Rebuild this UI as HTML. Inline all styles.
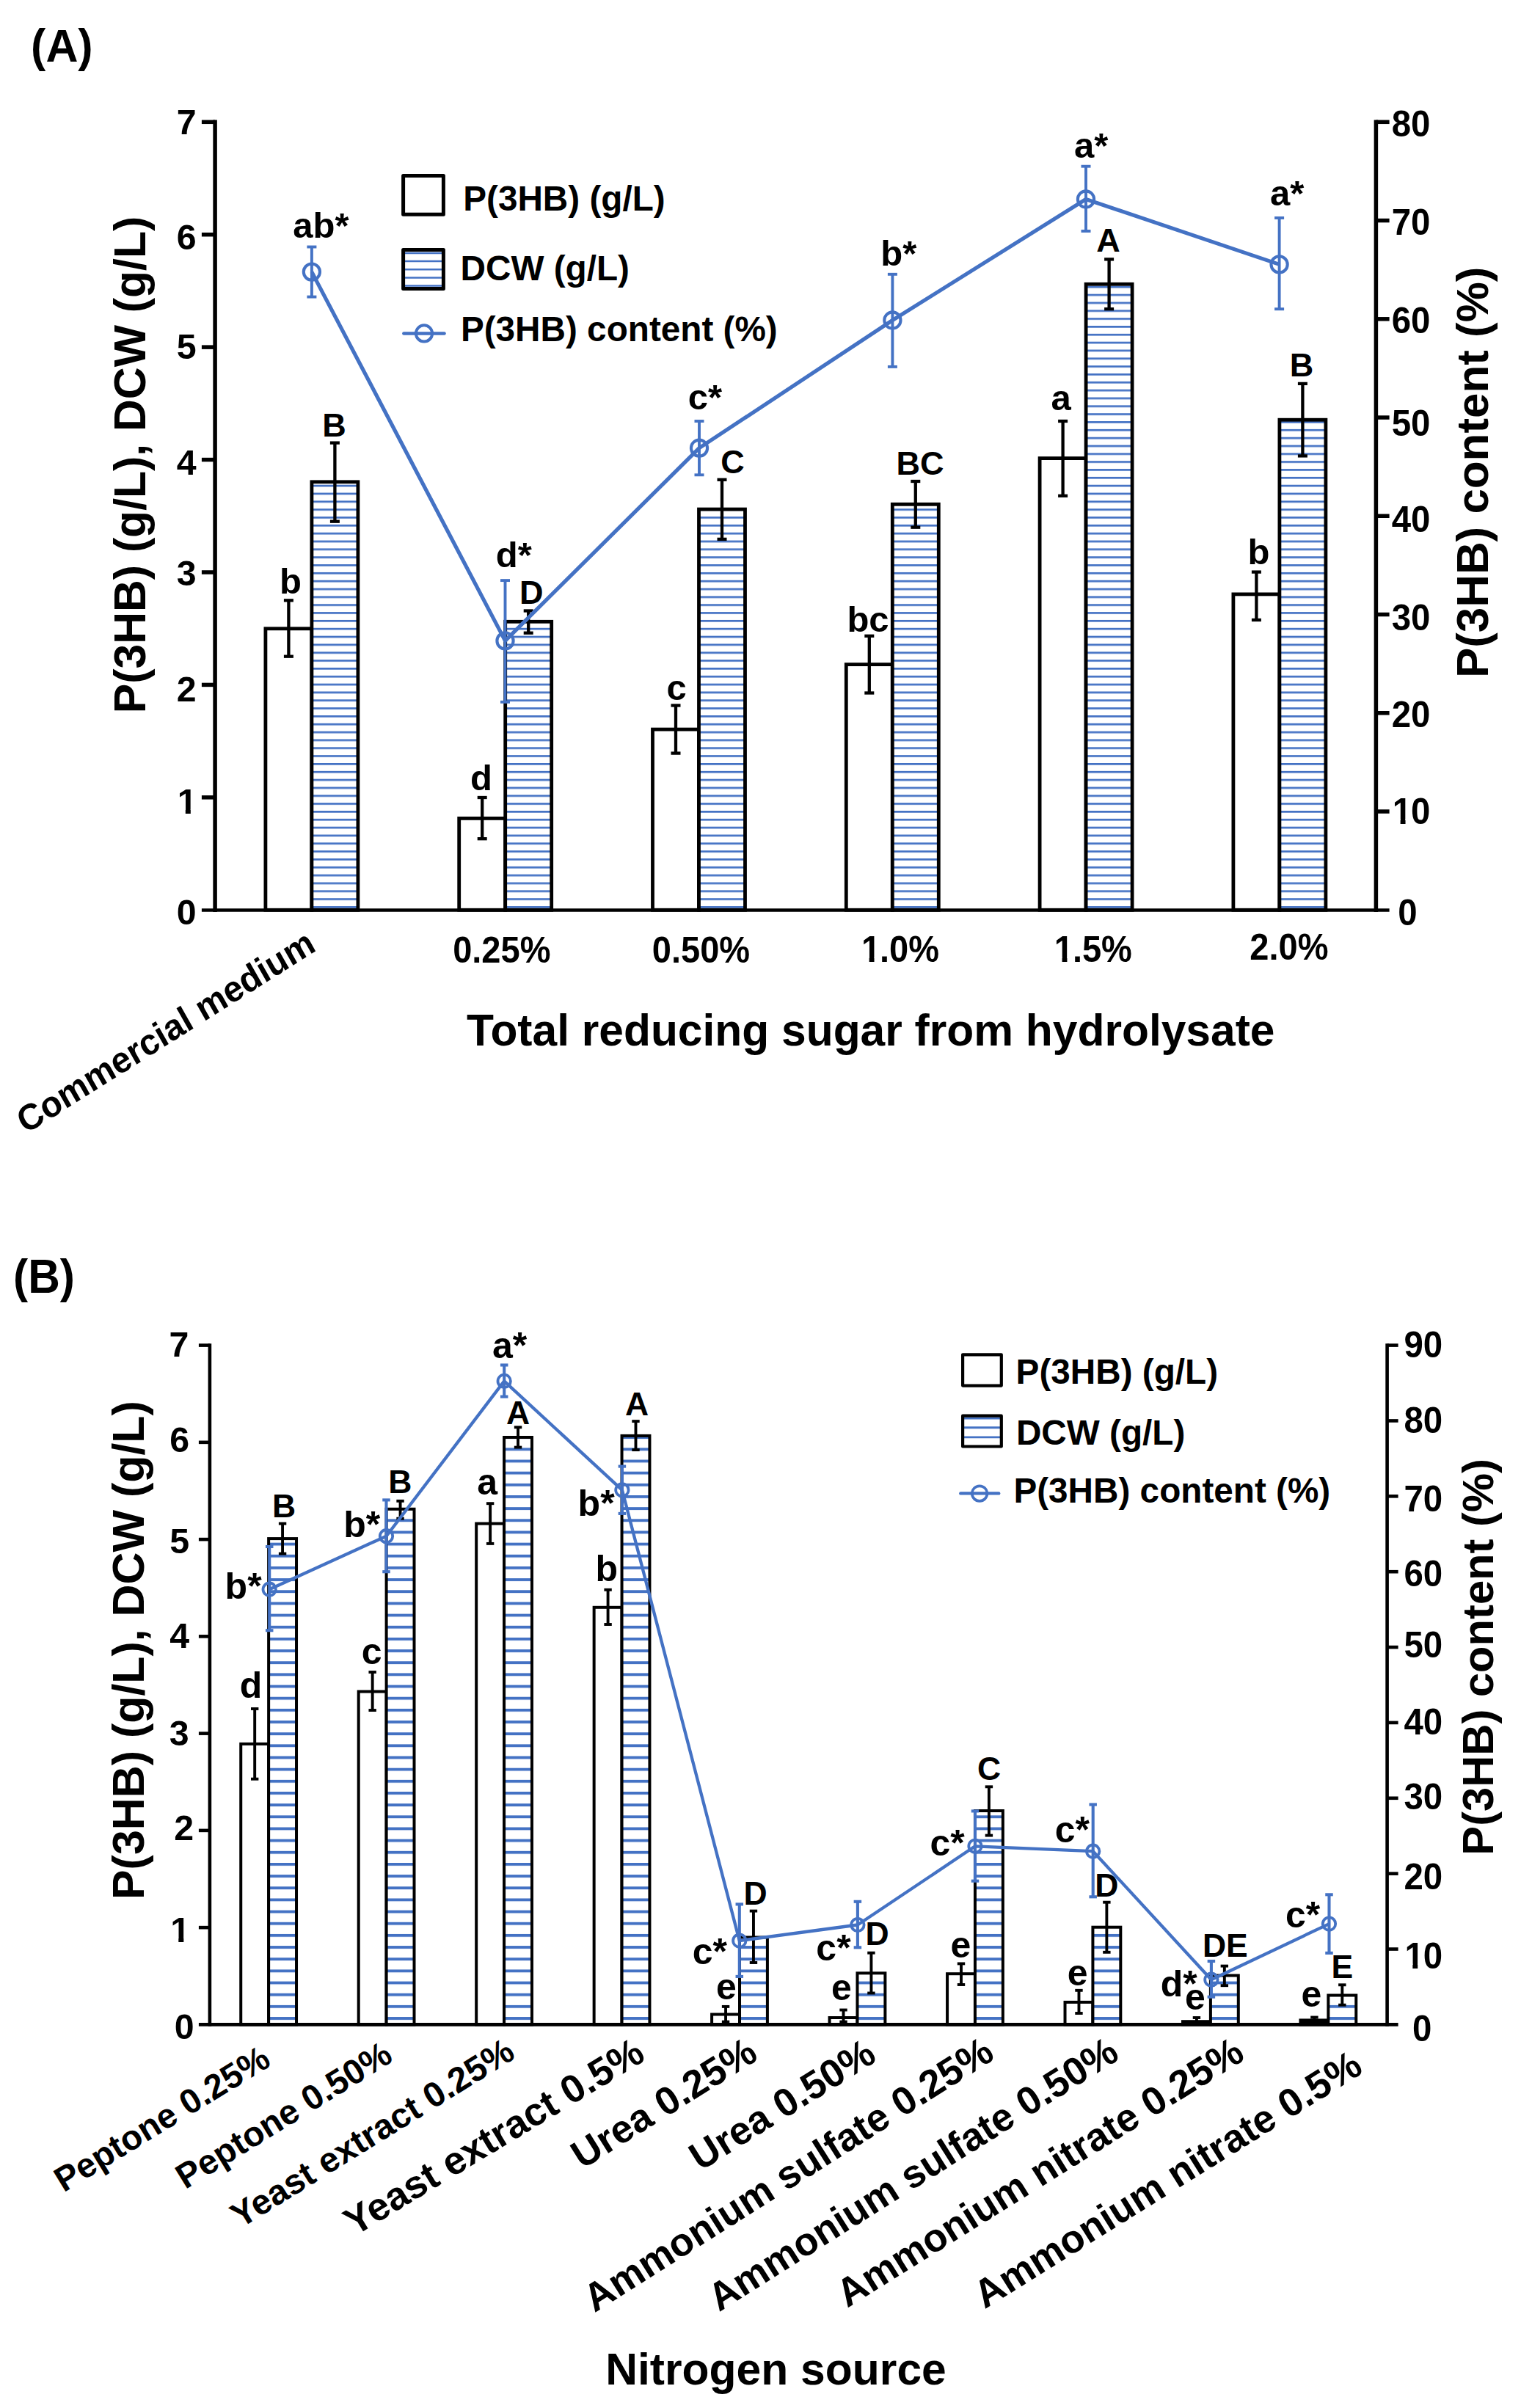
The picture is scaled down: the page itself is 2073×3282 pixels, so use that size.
<!DOCTYPE html>
<html lang="en"><head><meta charset="utf-8"><title>P(3HB) production chart</title>
<style>html,body{margin:0;padding:0;background:#fff;width:2073px;height:3282px;overflow:hidden}svg{display:block}text{font-family:"Liberation Sans",Arial,Helvetica,sans-serif;font-weight:bold}</style></head><body>
<svg width="2073" height="3282" viewBox="0 0 2073 3282">
<rect width="2073" height="3282" fill="#fff"/>
<defs>
<pattern id="hA" patternUnits="userSpaceOnUse" x="0" y="-932.150" width="40" height="10.836"><rect width="40" height="10.836" fill="#fff"/><rect width="40" height="2.7" fill="#4472C4"/></pattern>
<pattern id="hB" patternUnits="userSpaceOnUse" x="0" y="-482.950" width="40" height="16.160"><rect width="40" height="16.160" fill="#fff"/><rect width="40" height="3.9" fill="#4472C4"/></pattern>
</defs>
<text transform="translate(42.1 84.3) scale(1.015 1.06)" font-size="60">(A)</text>
<rect x="361.9" y="856.8" width="63" height="383.45" fill="#fff" stroke="#000" stroke-width="4.8"/>
<rect x="424.9" y="656.8" width="63" height="583.45" fill="url(#hA)" stroke="#000" stroke-width="4.8"/>
<rect x="625.7" y="1115.4" width="63" height="124.85" fill="#fff" stroke="#000" stroke-width="4.8"/>
<rect x="688.7" y="847.3" width="63" height="392.95" fill="url(#hA)" stroke="#000" stroke-width="4.8"/>
<rect x="889.5" y="994.1" width="63" height="246.15" fill="#fff" stroke="#000" stroke-width="4.8"/>
<rect x="952.5" y="694.1" width="63" height="546.15" fill="url(#hA)" stroke="#000" stroke-width="4.8"/>
<rect x="1153.3" y="905.6" width="63" height="334.65" fill="#fff" stroke="#000" stroke-width="4.8"/>
<rect x="1216.3" y="687.3" width="63" height="552.95" fill="url(#hA)" stroke="#000" stroke-width="4.8"/>
<rect x="1417.1" y="624.6" width="63" height="615.65" fill="#fff" stroke="#000" stroke-width="4.8"/>
<rect x="1480.1" y="387.3" width="63" height="852.95" fill="url(#hA)" stroke="#000" stroke-width="4.8"/>
<rect x="1680.9" y="809.9" width="63" height="430.35" fill="#fff" stroke="#000" stroke-width="4.8"/>
<rect x="1743.9" y="572.2" width="63" height="668.05" fill="url(#hA)" stroke="#000" stroke-width="4.8"/>
<line x1="393.4" y1="818.3" x2="393.4" y2="894.7" stroke="#000" stroke-width="4.3" stroke-linecap="butt"/>
<line x1="386.9" y1="818.3" x2="399.9" y2="818.3" stroke="#000" stroke-width="4.3" stroke-linecap="butt"/>
<line x1="386.9" y1="894.7" x2="399.9" y2="894.7" stroke="#000" stroke-width="4.3" stroke-linecap="butt"/>
<line x1="456.4" y1="603.6" x2="456.4" y2="710.7" stroke="#000" stroke-width="4.3" stroke-linecap="butt"/>
<line x1="449.9" y1="603.6" x2="462.9" y2="603.6" stroke="#000" stroke-width="4.3" stroke-linecap="butt"/>
<line x1="449.9" y1="710.7" x2="462.9" y2="710.7" stroke="#000" stroke-width="4.3" stroke-linecap="butt"/>
<line x1="657.2" y1="1087" x2="657.2" y2="1143.2" stroke="#000" stroke-width="4.3" stroke-linecap="butt"/>
<line x1="650.7" y1="1087" x2="663.7" y2="1087" stroke="#000" stroke-width="4.3" stroke-linecap="butt"/>
<line x1="650.7" y1="1143.2" x2="663.7" y2="1143.2" stroke="#000" stroke-width="4.3" stroke-linecap="butt"/>
<line x1="720.2" y1="832.5" x2="720.2" y2="862.7" stroke="#000" stroke-width="4.3" stroke-linecap="butt"/>
<line x1="713.7" y1="832.5" x2="726.7" y2="832.5" stroke="#000" stroke-width="4.3" stroke-linecap="butt"/>
<line x1="713.7" y1="862.7" x2="726.7" y2="862.7" stroke="#000" stroke-width="4.3" stroke-linecap="butt"/>
<line x1="921" y1="961.5" x2="921" y2="1026.6" stroke="#000" stroke-width="4.3" stroke-linecap="butt"/>
<line x1="914.5" y1="961.5" x2="927.5" y2="961.5" stroke="#000" stroke-width="4.3" stroke-linecap="butt"/>
<line x1="914.5" y1="1026.6" x2="927.5" y2="1026.6" stroke="#000" stroke-width="4.3" stroke-linecap="butt"/>
<line x1="984" y1="653.8" x2="984" y2="734.9" stroke="#000" stroke-width="4.3" stroke-linecap="butt"/>
<line x1="977.5" y1="653.8" x2="990.5" y2="653.8" stroke="#000" stroke-width="4.3" stroke-linecap="butt"/>
<line x1="977.5" y1="734.9" x2="990.5" y2="734.9" stroke="#000" stroke-width="4.3" stroke-linecap="butt"/>
<line x1="1184.8" y1="866.8" x2="1184.8" y2="944.5" stroke="#000" stroke-width="4.3" stroke-linecap="butt"/>
<line x1="1178.3" y1="866.8" x2="1191.3" y2="866.8" stroke="#000" stroke-width="4.3" stroke-linecap="butt"/>
<line x1="1178.3" y1="944.5" x2="1191.3" y2="944.5" stroke="#000" stroke-width="4.3" stroke-linecap="butt"/>
<line x1="1247.8" y1="656" x2="1247.8" y2="718.7" stroke="#000" stroke-width="4.3" stroke-linecap="butt"/>
<line x1="1241.3" y1="656" x2="1254.3" y2="656" stroke="#000" stroke-width="4.3" stroke-linecap="butt"/>
<line x1="1241.3" y1="718.7" x2="1254.3" y2="718.7" stroke="#000" stroke-width="4.3" stroke-linecap="butt"/>
<line x1="1448.6" y1="574" x2="1448.6" y2="675.8" stroke="#000" stroke-width="4.3" stroke-linecap="butt"/>
<line x1="1442.1" y1="574" x2="1455.1" y2="574" stroke="#000" stroke-width="4.3" stroke-linecap="butt"/>
<line x1="1442.1" y1="675.8" x2="1455.1" y2="675.8" stroke="#000" stroke-width="4.3" stroke-linecap="butt"/>
<line x1="1511.6" y1="353.4" x2="1511.6" y2="421.2" stroke="#000" stroke-width="4.3" stroke-linecap="butt"/>
<line x1="1505.1" y1="353.4" x2="1518.1" y2="353.4" stroke="#000" stroke-width="4.3" stroke-linecap="butt"/>
<line x1="1505.1" y1="421.2" x2="1518.1" y2="421.2" stroke="#000" stroke-width="4.3" stroke-linecap="butt"/>
<line x1="1712.4" y1="779.6" x2="1712.4" y2="845" stroke="#000" stroke-width="4.3" stroke-linecap="butt"/>
<line x1="1705.9" y1="779.6" x2="1718.9" y2="779.6" stroke="#000" stroke-width="4.3" stroke-linecap="butt"/>
<line x1="1705.9" y1="845" x2="1718.9" y2="845" stroke="#000" stroke-width="4.3" stroke-linecap="butt"/>
<line x1="1775.4" y1="522.9" x2="1775.4" y2="621.4" stroke="#000" stroke-width="4.3" stroke-linecap="butt"/>
<line x1="1768.9" y1="522.9" x2="1781.9" y2="522.9" stroke="#000" stroke-width="4.3" stroke-linecap="butt"/>
<line x1="1768.9" y1="621.4" x2="1781.9" y2="621.4" stroke="#000" stroke-width="4.3" stroke-linecap="butt"/>
<line x1="293.1" y1="163.56" x2="293.1" y2="1243" stroke="#000" stroke-width="5.5" stroke-linecap="butt"/>
<line x1="1875.4" y1="163.56" x2="1875.4" y2="1243" stroke="#000" stroke-width="5.5" stroke-linecap="butt"/>
<line x1="274.9" y1="1240.45" x2="1893.6" y2="1240.45" stroke="#000" stroke-width="4.6" stroke-linecap="butt"/>
<line x1="274.9" y1="1086.83" x2="293.1" y2="1086.83" stroke="#000" stroke-width="5.5" stroke-linecap="butt"/>
<line x1="274.9" y1="933.41" x2="293.1" y2="933.41" stroke="#000" stroke-width="5.5" stroke-linecap="butt"/>
<line x1="274.9" y1="779.99" x2="293.1" y2="779.99" stroke="#000" stroke-width="5.5" stroke-linecap="butt"/>
<line x1="274.9" y1="626.57" x2="293.1" y2="626.57" stroke="#000" stroke-width="5.5" stroke-linecap="butt"/>
<line x1="274.9" y1="473.15" x2="293.1" y2="473.15" stroke="#000" stroke-width="5.5" stroke-linecap="butt"/>
<line x1="274.9" y1="319.73" x2="293.1" y2="319.73" stroke="#000" stroke-width="5.5" stroke-linecap="butt"/>
<line x1="274.9" y1="166.31" x2="293.1" y2="166.31" stroke="#000" stroke-width="5.5" stroke-linecap="butt"/>
<line x1="1875.4" y1="1106.01" x2="1893.6" y2="1106.01" stroke="#000" stroke-width="5.5" stroke-linecap="butt"/>
<line x1="1875.4" y1="971.77" x2="1893.6" y2="971.77" stroke="#000" stroke-width="5.5" stroke-linecap="butt"/>
<line x1="1875.4" y1="837.52" x2="1893.6" y2="837.52" stroke="#000" stroke-width="5.5" stroke-linecap="butt"/>
<line x1="1875.4" y1="703.28" x2="1893.6" y2="703.28" stroke="#000" stroke-width="5.5" stroke-linecap="butt"/>
<line x1="1875.4" y1="569.04" x2="1893.6" y2="569.04" stroke="#000" stroke-width="5.5" stroke-linecap="butt"/>
<line x1="1875.4" y1="434.8" x2="1893.6" y2="434.8" stroke="#000" stroke-width="5.5" stroke-linecap="butt"/>
<line x1="1875.4" y1="300.55" x2="1893.6" y2="300.55" stroke="#000" stroke-width="5.5" stroke-linecap="butt"/>
<line x1="1875.4" y1="166.31" x2="1893.6" y2="166.31" stroke="#000" stroke-width="5.5" stroke-linecap="butt"/>
<text x="267.5" y="1260.25" font-size="48.3" text-anchor="end" fill="#000">0</text>
<g transform="translate(240.64 1109.13) scale(1 1.0)"><clipPath id="c1_1"><rect x="-10" y="-62.79" width="37.95" height="56.96"/><rect x="12.16" y="-6.93" width="7.03" height="7.93"/><rect x="27.4" y="-62.79" width="289.8" height="86.94"/></clipPath><text clip-path="url(#c1_1)" font-size="48.3" dx="1.08 -1.08">1</text></g>
<text x="267.5" y="955.71" font-size="48.3" text-anchor="end" fill="#000">2</text>
<text x="267.5" y="797.79" font-size="48.3" text-anchor="end" fill="#000">3</text>
<text x="267.5" y="646.67" font-size="48.3" text-anchor="end" fill="#000">4</text>
<text x="267.5" y="488.55" font-size="48.3" text-anchor="end" fill="#000">5</text>
<text x="267.5" y="340.23" font-size="48.3" text-anchor="end" fill="#000">6</text>
<text x="267.5" y="183.11" font-size="48.3" text-anchor="end" fill="#000">7</text>
<text transform="translate(1905.3 1260.75) scale(1 1.04)" font-size="47.4">0</text>
<g transform="translate(1896.7 1122.51) scale(1 1.04)"><clipPath id="c1_2"><rect x="-10" y="-61.62" width="37.43" height="55.88"/><rect x="11.93" y="-6.84" width="6.9" height="7.84"/><rect x="26.89" y="-61.62" width="284.4" height="85.32"/></clipPath><text clip-path="url(#c1_2)" font-size="47.4" dx="1.06 -1.06">10</text></g>
<text transform="translate(1896.7 990.97) scale(1 1.04)" font-size="47.4">20</text>
<text transform="translate(1896.7 859.32) scale(1 1.04)" font-size="47.4">30</text>
<text transform="translate(1896.7 724.88) scale(1 1.04)" font-size="47.4">40</text>
<text transform="translate(1896.7 593.74) scale(1 1.04)" font-size="47.4">50</text>
<text transform="translate(1896.7 454.4) scale(1 1.04)" font-size="47.4">60</text>
<text transform="translate(1896.7 320.05) scale(1 1.04)" font-size="47.4">70</text>
<text transform="translate(1896.7 186.31) scale(1 1.04)" font-size="47.4">80</text>
<polyline fill="none" stroke="#4472C4" stroke-width="5.2" stroke-linejoin="round" points="424.9,370.6 688.5,873.4 953,610.7 1216.4,436.5 1480,271.5 1743.6,360.4"/>
<line x1="424.9" y1="336.5" x2="424.9" y2="404.6" stroke="#4472C4" stroke-width="3.9" stroke-linecap="butt"/>
<line x1="418.4" y1="336.5" x2="431.4" y2="336.5" stroke="#4472C4" stroke-width="3.9" stroke-linecap="butt"/>
<line x1="418.4" y1="404.6" x2="431.4" y2="404.6" stroke="#4472C4" stroke-width="3.9" stroke-linecap="butt"/>
<line x1="688.5" y1="791.1" x2="688.5" y2="956.8" stroke="#4472C4" stroke-width="3.9" stroke-linecap="butt"/>
<line x1="682" y1="791.1" x2="695" y2="791.1" stroke="#4472C4" stroke-width="3.9" stroke-linecap="butt"/>
<line x1="682" y1="956.8" x2="695" y2="956.8" stroke="#4472C4" stroke-width="3.9" stroke-linecap="butt"/>
<line x1="953" y1="574" x2="953" y2="647.3" stroke="#4472C4" stroke-width="3.9" stroke-linecap="butt"/>
<line x1="946.5" y1="574" x2="959.5" y2="574" stroke="#4472C4" stroke-width="3.9" stroke-linecap="butt"/>
<line x1="946.5" y1="647.3" x2="959.5" y2="647.3" stroke="#4472C4" stroke-width="3.9" stroke-linecap="butt"/>
<line x1="1216.4" y1="373.8" x2="1216.4" y2="499.9" stroke="#4472C4" stroke-width="3.9" stroke-linecap="butt"/>
<line x1="1209.9" y1="373.8" x2="1222.9" y2="373.8" stroke="#4472C4" stroke-width="3.9" stroke-linecap="butt"/>
<line x1="1209.9" y1="499.9" x2="1222.9" y2="499.9" stroke="#4472C4" stroke-width="3.9" stroke-linecap="butt"/>
<line x1="1480" y1="226.7" x2="1480" y2="315" stroke="#4472C4" stroke-width="3.9" stroke-linecap="butt"/>
<line x1="1473.5" y1="226.7" x2="1486.5" y2="226.7" stroke="#4472C4" stroke-width="3.9" stroke-linecap="butt"/>
<line x1="1473.5" y1="315" x2="1486.5" y2="315" stroke="#4472C4" stroke-width="3.9" stroke-linecap="butt"/>
<line x1="1743.6" y1="297" x2="1743.6" y2="421.2" stroke="#4472C4" stroke-width="3.9" stroke-linecap="butt"/>
<line x1="1737.1" y1="297" x2="1750.1" y2="297" stroke="#4472C4" stroke-width="3.9" stroke-linecap="butt"/>
<line x1="1737.1" y1="421.2" x2="1750.1" y2="421.2" stroke="#4472C4" stroke-width="3.9" stroke-linecap="butt"/>
<circle cx="424.9" cy="370.6" r="11.1" fill="none" stroke="#4472C4" stroke-width="4.1"/>
<circle cx="688.5" cy="873.4" r="11.1" fill="none" stroke="#4472C4" stroke-width="4.1"/>
<circle cx="953" cy="610.7" r="11.1" fill="none" stroke="#4472C4" stroke-width="4.1"/>
<circle cx="1216.4" cy="436.5" r="11.1" fill="none" stroke="#4472C4" stroke-width="4.1"/>
<circle cx="1480" cy="271.5" r="11.1" fill="none" stroke="#4472C4" stroke-width="4.1"/>
<circle cx="1743.6" cy="360.4" r="11.1" fill="none" stroke="#4472C4" stroke-width="4.1"/>
<text x="437.5" y="323.5" font-size="49" text-anchor="middle" fill="#000">ab*</text>
<text x="395.9" y="808.9" font-size="49" text-anchor="middle" fill="#000">b</text>
<text x="455.6" y="594.7" font-size="45" text-anchor="middle" fill="#000">B</text>
<text x="700.3" y="773.4" font-size="49" text-anchor="middle" fill="#000">d*</text>
<text x="655.9" y="1076.9" font-size="49" text-anchor="middle" fill="#000">d</text>
<text x="724.3" y="822.5" font-size="45" text-anchor="middle" fill="#000">D</text>
<text x="961" y="558" font-size="49" text-anchor="middle" fill="#000">c*</text>
<text x="922.2" y="954.4" font-size="49" text-anchor="middle" fill="#000">c</text>
<text x="998.5" y="645" font-size="45" text-anchor="middle" fill="#000">C</text>
<text x="1224.8" y="362.3" font-size="49" text-anchor="middle" fill="#000">b*</text>
<text x="1183" y="861.4" font-size="49" text-anchor="middle" fill="#000">bc</text>
<text x="1253.9" y="647" font-size="45" text-anchor="middle" fill="#000">BC</text>
<text x="1487.1" y="215.2" font-size="49" text-anchor="middle" fill="#000">a*</text>
<text x="1446.1" y="559.4" font-size="49" text-anchor="middle" fill="#000">a</text>
<text x="1510.4" y="343.1" font-size="45" text-anchor="middle" fill="#000">A</text>
<text x="1754.2" y="280.4" font-size="49" text-anchor="middle" fill="#000">a*</text>
<text x="1715.5" y="768.6" font-size="49" text-anchor="middle" fill="#000">b</text>
<text x="1774" y="512.7" font-size="45" text-anchor="middle" fill="#000">B</text>
<rect x="549.6" y="239.6" width="54.8" height="52.6" fill="#fff" stroke="#000" stroke-width="5" stroke-linejoin="round"/>
<rect x="549.6" y="340.6" width="54.8" height="52.8" fill="#fff" stroke="none"/>
<line x1="549.6" y1="344.9" x2="604.4" y2="344.9" stroke="#4472C4" stroke-width="2.5" stroke-linecap="butt"/>
<line x1="549.6" y1="356.1" x2="604.4" y2="356.1" stroke="#4472C4" stroke-width="2.5" stroke-linecap="butt"/>
<line x1="549.6" y1="367.3" x2="604.4" y2="367.3" stroke="#4472C4" stroke-width="2.5" stroke-linecap="butt"/>
<line x1="549.6" y1="378.4" x2="604.4" y2="378.4" stroke="#4472C4" stroke-width="2.5" stroke-linecap="butt"/>
<line x1="549.6" y1="389.6" x2="604.4" y2="389.6" stroke="#4472C4" stroke-width="2.5" stroke-linecap="butt"/>
<rect x="549.6" y="340.6" width="54.8" height="52.8" fill="none" stroke="#000" stroke-width="5" stroke-linejoin="round"/>
<line x1="550.4" y1="454.5" x2="605.5" y2="454.5" stroke="#4472C4" stroke-width="4.6" stroke-linecap="round"/>
<circle cx="578" cy="454.4" r="11.1" fill="none" stroke="#4472C4" stroke-width="4"/>
<text x="631.2" y="287" font-size="47.7" text-anchor="start" fill="#000">P(3HB) (g/L)</text>
<text x="627.5" y="381.8" font-size="47.7" text-anchor="start" fill="#000">DCW (g/L)</text>
<text x="627.9" y="464.7" font-size="47.7" text-anchor="start" fill="#000">P(3HB) content (%)</text>
<text transform="translate(197.8 633.5) rotate(-90)" font-size="60.7" text-anchor="middle">P(3HB) (g/L), DCW (g/L)</text>
<text transform="translate(2027.8 643.9) rotate(-90)" font-size="61.9" text-anchor="middle">P(3HB) content (%)</text>
<text x="1186.7" y="1425.1" font-size="60.5" text-anchor="middle" fill="#000">Total reducing sugar from hydrolysate</text>
<text transform="translate(683.8 1311.5) scale(1 1.06)" font-size="47" text-anchor="middle">0.25%</text>
<text transform="translate(955.5 1311.5) scale(1 1.06)" font-size="47" text-anchor="middle">0.50%</text>
<g transform="translate(1172.84 1311.4) scale(1 1.06)"><clipPath id="c1_3"><rect x="-10" y="-61.1" width="37.19" height="55.4"/><rect x="11.83" y="-6.8" width="6.85" height="7.8"/><rect x="26.67" y="-61.1" width="282" height="84.6"/></clipPath><text clip-path="url(#c1_3)" font-size="47" dx="1.06 -1.06">1.0%</text></g>
<g transform="translate(1435.74 1311.4) scale(1 1.06)"><clipPath id="c1_4"><rect x="-10" y="-61.1" width="37.19" height="55.4"/><rect x="11.83" y="-6.8" width="6.85" height="7.8"/><rect x="26.67" y="-61.1" width="282" height="84.6"/></clipPath><text clip-path="url(#c1_4)" font-size="47" dx="1.06 -1.06">1.5%</text></g>
<text transform="translate(1756.9 1308.3) scale(1 1.06)" font-size="47" text-anchor="middle">2.0%</text>
<text transform="translate(432.6 1294.9) scale(1 1.055) rotate(-30.93)" font-size="47.1" text-anchor="end">Commercial medium</text>
<text transform="translate(18.1 1761.8) scale(1.007 1.065)" font-size="60">(B)</text>
<rect x="328.24" y="2376.9" width="37.9" height="382.5" fill="#fff" stroke="#000" stroke-width="4"/>
<rect x="366.13" y="2097.1" width="37.9" height="662.3" fill="url(#hB)" stroke="#000" stroke-width="4"/>
<rect x="488.7" y="2305.5" width="37.9" height="453.9" fill="#fff" stroke="#000" stroke-width="4"/>
<rect x="526.6" y="2056.8" width="37.9" height="702.6" fill="url(#hB)" stroke="#000" stroke-width="4"/>
<rect x="649.17" y="2076.6" width="37.9" height="682.8" fill="#fff" stroke="#000" stroke-width="4"/>
<rect x="687.07" y="1959" width="37.9" height="800.4" fill="url(#hB)" stroke="#000" stroke-width="4"/>
<rect x="809.64" y="2190.8" width="37.9" height="568.6" fill="#fff" stroke="#000" stroke-width="4"/>
<rect x="847.54" y="1956.9" width="37.9" height="802.5" fill="url(#hB)" stroke="#000" stroke-width="4"/>
<rect x="970.11" y="2745.5" width="37.9" height="13.9" fill="#fff" stroke="#000" stroke-width="4"/>
<rect x="1008.01" y="2640.5" width="37.9" height="118.9" fill="url(#hB)" stroke="#000" stroke-width="4"/>
<rect x="1130.58" y="2750" width="37.9" height="9.4" fill="#fff" stroke="#000" stroke-width="4"/>
<rect x="1168.48" y="2689.3" width="37.9" height="70.1" fill="url(#hB)" stroke="#000" stroke-width="4"/>
<rect x="1291.05" y="2690.2" width="37.9" height="69.2" fill="#fff" stroke="#000" stroke-width="4"/>
<rect x="1328.95" y="2468" width="37.9" height="291.4" fill="url(#hB)" stroke="#000" stroke-width="4"/>
<rect x="1451.52" y="2728.9" width="37.9" height="30.5" fill="#fff" stroke="#000" stroke-width="4"/>
<rect x="1489.42" y="2626.7" width="37.9" height="132.7" fill="url(#hB)" stroke="#000" stroke-width="4"/>
<rect x="1611.99" y="2755.2" width="37.9" height="4.2" fill="#000" stroke="#000" stroke-width="4"/>
<rect x="1649.89" y="2692.5" width="37.9" height="66.9" fill="url(#hB)" stroke="#000" stroke-width="4"/>
<rect x="1772.46" y="2753.4" width="37.9" height="6" fill="#000" stroke="#000" stroke-width="4"/>
<rect x="1810.36" y="2719.5" width="37.9" height="39.9" fill="url(#hB)" stroke="#000" stroke-width="4"/>
<line x1="347.19" y1="2329" x2="347.19" y2="2424.7" stroke="#000" stroke-width="3.9" stroke-linecap="butt"/>
<line x1="341.99" y1="2329" x2="352.38" y2="2329" stroke="#000" stroke-width="3.9" stroke-linecap="butt"/>
<line x1="341.99" y1="2424.7" x2="352.38" y2="2424.7" stroke="#000" stroke-width="3.9" stroke-linecap="butt"/>
<line x1="385.08" y1="2076.6" x2="385.08" y2="2117.6" stroke="#000" stroke-width="3.9" stroke-linecap="butt"/>
<line x1="379.88" y1="2076.6" x2="390.28" y2="2076.6" stroke="#000" stroke-width="3.9" stroke-linecap="butt"/>
<line x1="379.88" y1="2117.6" x2="390.28" y2="2117.6" stroke="#000" stroke-width="3.9" stroke-linecap="butt"/>
<line x1="507.65" y1="2279" x2="507.65" y2="2331" stroke="#000" stroke-width="3.9" stroke-linecap="butt"/>
<line x1="502.45" y1="2279" x2="512.85" y2="2279" stroke="#000" stroke-width="3.9" stroke-linecap="butt"/>
<line x1="502.45" y1="2331" x2="512.85" y2="2331" stroke="#000" stroke-width="3.9" stroke-linecap="butt"/>
<line x1="545.55" y1="2045.8" x2="545.55" y2="2069.7" stroke="#000" stroke-width="3.9" stroke-linecap="butt"/>
<line x1="540.35" y1="2045.8" x2="550.75" y2="2045.8" stroke="#000" stroke-width="3.9" stroke-linecap="butt"/>
<line x1="540.35" y1="2069.7" x2="550.75" y2="2069.7" stroke="#000" stroke-width="3.9" stroke-linecap="butt"/>
<line x1="668.12" y1="2049.2" x2="668.12" y2="2103.9" stroke="#000" stroke-width="3.9" stroke-linecap="butt"/>
<line x1="662.92" y1="2049.2" x2="673.32" y2="2049.2" stroke="#000" stroke-width="3.9" stroke-linecap="butt"/>
<line x1="662.92" y1="2103.9" x2="673.32" y2="2103.9" stroke="#000" stroke-width="3.9" stroke-linecap="butt"/>
<line x1="706.02" y1="1945.3" x2="706.02" y2="1972.6" stroke="#000" stroke-width="3.9" stroke-linecap="butt"/>
<line x1="700.82" y1="1945.3" x2="711.23" y2="1945.3" stroke="#000" stroke-width="3.9" stroke-linecap="butt"/>
<line x1="700.82" y1="1972.6" x2="711.23" y2="1972.6" stroke="#000" stroke-width="3.9" stroke-linecap="butt"/>
<line x1="828.59" y1="2166.8" x2="828.59" y2="2214" stroke="#000" stroke-width="3.9" stroke-linecap="butt"/>
<line x1="823.39" y1="2166.8" x2="833.79" y2="2166.8" stroke="#000" stroke-width="3.9" stroke-linecap="butt"/>
<line x1="823.39" y1="2214" x2="833.79" y2="2214" stroke="#000" stroke-width="3.9" stroke-linecap="butt"/>
<line x1="866.49" y1="1937.1" x2="866.49" y2="1976.1" stroke="#000" stroke-width="3.9" stroke-linecap="butt"/>
<line x1="861.29" y1="1937.1" x2="871.69" y2="1937.1" stroke="#000" stroke-width="3.9" stroke-linecap="butt"/>
<line x1="861.29" y1="1976.1" x2="871.69" y2="1976.1" stroke="#000" stroke-width="3.9" stroke-linecap="butt"/>
<line x1="989.06" y1="2734.9" x2="989.06" y2="2755.6" stroke="#000" stroke-width="3.9" stroke-linecap="butt"/>
<line x1="983.86" y1="2734.9" x2="994.26" y2="2734.9" stroke="#000" stroke-width="3.9" stroke-linecap="butt"/>
<line x1="983.86" y1="2755.6" x2="994.26" y2="2755.6" stroke="#000" stroke-width="3.9" stroke-linecap="butt"/>
<line x1="1026.96" y1="2604.6" x2="1026.96" y2="2675" stroke="#000" stroke-width="3.9" stroke-linecap="butt"/>
<line x1="1021.76" y1="2604.6" x2="1032.16" y2="2604.6" stroke="#000" stroke-width="3.9" stroke-linecap="butt"/>
<line x1="1021.76" y1="2675" x2="1032.16" y2="2675" stroke="#000" stroke-width="3.9" stroke-linecap="butt"/>
<line x1="1149.53" y1="2739.5" x2="1149.53" y2="2755.6" stroke="#000" stroke-width="3.9" stroke-linecap="butt"/>
<line x1="1144.33" y1="2739.5" x2="1154.73" y2="2739.5" stroke="#000" stroke-width="3.9" stroke-linecap="butt"/>
<line x1="1144.33" y1="2755.6" x2="1154.73" y2="2755.6" stroke="#000" stroke-width="3.9" stroke-linecap="butt"/>
<line x1="1187.43" y1="2661.7" x2="1187.43" y2="2716.5" stroke="#000" stroke-width="3.9" stroke-linecap="butt"/>
<line x1="1182.23" y1="2661.7" x2="1192.63" y2="2661.7" stroke="#000" stroke-width="3.9" stroke-linecap="butt"/>
<line x1="1182.23" y1="2716.5" x2="1192.63" y2="2716.5" stroke="#000" stroke-width="3.9" stroke-linecap="butt"/>
<line x1="1310" y1="2676.4" x2="1310" y2="2705" stroke="#000" stroke-width="3.9" stroke-linecap="butt"/>
<line x1="1304.8" y1="2676.4" x2="1315.2" y2="2676.4" stroke="#000" stroke-width="3.9" stroke-linecap="butt"/>
<line x1="1304.8" y1="2705" x2="1315.2" y2="2705" stroke="#000" stroke-width="3.9" stroke-linecap="butt"/>
<line x1="1347.9" y1="2435.3" x2="1347.9" y2="2501.6" stroke="#000" stroke-width="3.9" stroke-linecap="butt"/>
<line x1="1342.7" y1="2435.3" x2="1353.11" y2="2435.3" stroke="#000" stroke-width="3.9" stroke-linecap="butt"/>
<line x1="1342.7" y1="2501.6" x2="1353.11" y2="2501.6" stroke="#000" stroke-width="3.9" stroke-linecap="butt"/>
<line x1="1470.47" y1="2712.8" x2="1470.47" y2="2744" stroke="#000" stroke-width="3.9" stroke-linecap="butt"/>
<line x1="1465.27" y1="2712.8" x2="1475.67" y2="2712.8" stroke="#000" stroke-width="3.9" stroke-linecap="butt"/>
<line x1="1465.27" y1="2744" x2="1475.67" y2="2744" stroke="#000" stroke-width="3.9" stroke-linecap="butt"/>
<line x1="1508.37" y1="2592.7" x2="1508.37" y2="2660.8" stroke="#000" stroke-width="3.9" stroke-linecap="butt"/>
<line x1="1503.17" y1="2592.7" x2="1513.57" y2="2592.7" stroke="#000" stroke-width="3.9" stroke-linecap="butt"/>
<line x1="1503.17" y1="2660.8" x2="1513.57" y2="2660.8" stroke="#000" stroke-width="3.9" stroke-linecap="butt"/>
<line x1="1630.94" y1="2750" x2="1630.94" y2="2757" stroke="#000" stroke-width="3.9" stroke-linecap="butt"/>
<line x1="1625.74" y1="2750" x2="1636.14" y2="2750" stroke="#000" stroke-width="3.9" stroke-linecap="butt"/>
<line x1="1625.74" y1="2757" x2="1636.14" y2="2757" stroke="#000" stroke-width="3.9" stroke-linecap="butt"/>
<line x1="1668.84" y1="2679.6" x2="1668.84" y2="2706.2" stroke="#000" stroke-width="3.9" stroke-linecap="butt"/>
<line x1="1663.64" y1="2679.6" x2="1674.04" y2="2679.6" stroke="#000" stroke-width="3.9" stroke-linecap="butt"/>
<line x1="1663.64" y1="2706.2" x2="1674.04" y2="2706.2" stroke="#000" stroke-width="3.9" stroke-linecap="butt"/>
<line x1="1791.41" y1="2749.5" x2="1791.41" y2="2757" stroke="#000" stroke-width="3.9" stroke-linecap="butt"/>
<line x1="1786.21" y1="2749.5" x2="1796.61" y2="2749.5" stroke="#000" stroke-width="3.9" stroke-linecap="butt"/>
<line x1="1786.21" y1="2757" x2="1796.61" y2="2757" stroke="#000" stroke-width="3.9" stroke-linecap="butt"/>
<line x1="1829.31" y1="2705.3" x2="1829.31" y2="2732.7" stroke="#000" stroke-width="3.9" stroke-linecap="butt"/>
<line x1="1824.11" y1="2705.3" x2="1834.51" y2="2705.3" stroke="#000" stroke-width="3.9" stroke-linecap="butt"/>
<line x1="1824.11" y1="2732.7" x2="1834.51" y2="2732.7" stroke="#000" stroke-width="3.9" stroke-linecap="butt"/>
<line x1="285.9" y1="1831.28" x2="285.9" y2="2761.7" stroke="#000" stroke-width="4.6" stroke-linecap="butt"/>
<line x1="1890.6" y1="1831.28" x2="1890.6" y2="2761.7" stroke="#000" stroke-width="4.6" stroke-linecap="butt"/>
<line x1="270.9" y1="2759.4" x2="1905.6" y2="2759.4" stroke="#000" stroke-width="4.6" stroke-linecap="butt"/>
<line x1="270.9" y1="2627.14" x2="285.9" y2="2627.14" stroke="#000" stroke-width="4.6" stroke-linecap="butt"/>
<line x1="270.9" y1="2494.88" x2="285.9" y2="2494.88" stroke="#000" stroke-width="4.6" stroke-linecap="butt"/>
<line x1="270.9" y1="2362.62" x2="285.9" y2="2362.62" stroke="#000" stroke-width="4.6" stroke-linecap="butt"/>
<line x1="270.9" y1="2230.36" x2="285.9" y2="2230.36" stroke="#000" stroke-width="4.6" stroke-linecap="butt"/>
<line x1="270.9" y1="2098.1" x2="285.9" y2="2098.1" stroke="#000" stroke-width="4.6" stroke-linecap="butt"/>
<line x1="270.9" y1="1965.84" x2="285.9" y2="1965.84" stroke="#000" stroke-width="4.6" stroke-linecap="butt"/>
<line x1="270.9" y1="1833.58" x2="285.9" y2="1833.58" stroke="#000" stroke-width="4.6" stroke-linecap="butt"/>
<line x1="1890.6" y1="2656.53" x2="1905.6" y2="2656.53" stroke="#000" stroke-width="4.6" stroke-linecap="butt"/>
<line x1="1890.6" y1="2553.66" x2="1905.6" y2="2553.66" stroke="#000" stroke-width="4.6" stroke-linecap="butt"/>
<line x1="1890.6" y1="2450.79" x2="1905.6" y2="2450.79" stroke="#000" stroke-width="4.6" stroke-linecap="butt"/>
<line x1="1890.6" y1="2347.92" x2="1905.6" y2="2347.92" stroke="#000" stroke-width="4.6" stroke-linecap="butt"/>
<line x1="1890.6" y1="2245.06" x2="1905.6" y2="2245.06" stroke="#000" stroke-width="4.6" stroke-linecap="butt"/>
<line x1="1890.6" y1="2142.19" x2="1905.6" y2="2142.19" stroke="#000" stroke-width="4.6" stroke-linecap="butt"/>
<line x1="1890.6" y1="2039.32" x2="1905.6" y2="2039.32" stroke="#000" stroke-width="4.6" stroke-linecap="butt"/>
<line x1="1890.6" y1="1936.45" x2="1905.6" y2="1936.45" stroke="#000" stroke-width="4.6" stroke-linecap="butt"/>
<line x1="1890.6" y1="1833.58" x2="1905.6" y2="1833.58" stroke="#000" stroke-width="4.6" stroke-linecap="butt"/>
<text x="264.5" y="2779.2" font-size="48.3" text-anchor="end" fill="#000">0</text>
<g transform="translate(231.14 2647.34) scale(1 1.0)"><clipPath id="c1_5"><rect x="-10" y="-62.79" width="37.95" height="56.96"/><rect x="12.16" y="-6.93" width="7.03" height="7.93"/><rect x="27.4" y="-62.79" width="289.8" height="86.94"/></clipPath><text clip-path="url(#c1_5)" font-size="48.3" dx="1.08 -1.08">1</text></g>
<text x="264.2" y="2508.08" font-size="48.3" text-anchor="end" fill="#000">2</text>
<text x="257.6" y="2378.52" font-size="48.3" text-anchor="end" fill="#000">3</text>
<text x="258.2" y="2246.46" font-size="48.3" text-anchor="end" fill="#000">4</text>
<text x="258.2" y="2116.5" font-size="48.3" text-anchor="end" fill="#000">5</text>
<text x="258.1" y="1978.94" font-size="48.3" text-anchor="end" fill="#000">6</text>
<text x="257.4" y="1848.98" font-size="48.3" text-anchor="end" fill="#000">7</text>
<text transform="translate(1924.9 2781.8) scale(1 1.04)" font-size="47.4">0</text>
<g transform="translate(1913.4 2682.53) scale(1 1.04)"><clipPath id="c1_6"><rect x="-10" y="-61.62" width="37.43" height="55.88"/><rect x="11.93" y="-6.84" width="6.9" height="7.84"/><rect x="26.89" y="-61.62" width="284.4" height="85.32"/></clipPath><text clip-path="url(#c1_6)" font-size="47.4" dx="1.06 -1.06">10</text></g>
<text transform="translate(1913.4 2575.46) scale(1 1.04)" font-size="47.4">20</text>
<text transform="translate(1913.4 2466.49) scale(1 1.04)" font-size="47.4">30</text>
<text transform="translate(1913.4 2363.52) scale(1 1.04)" font-size="47.4">40</text>
<text transform="translate(1913.4 2258.86) scale(1 1.04)" font-size="47.4">50</text>
<text transform="translate(1913.4 2162.19) scale(1 1.04)" font-size="47.4">60</text>
<text transform="translate(1913.4 2059.82) scale(1 1.04)" font-size="47.4">70</text>
<text transform="translate(1913.4 1952.65) scale(1 1.04)" font-size="47.4">80</text>
<text transform="translate(1913.4 1849.58) scale(1 1.04)" font-size="47.4">90</text>
<polyline fill="none" stroke="#4472C4" stroke-width="4.3" stroke-linejoin="round" points="367.2,2166.2 526.5,2093.7 687.2,1882.4 847.9,2030.8 1007.8,2645.1 1168.9,2623.5 1329,2516.3 1489.7,2523.2 1650.9,2698.2 1811.5,2622.1"/>
<line x1="367.2" y1="2108" x2="367.2" y2="2222.2" stroke="#4472C4" stroke-width="4.1" stroke-linecap="butt"/>
<line x1="361.95" y1="2108" x2="372.45" y2="2108" stroke="#4472C4" stroke-width="4.1" stroke-linecap="butt"/>
<line x1="361.95" y1="2222.2" x2="372.45" y2="2222.2" stroke="#4472C4" stroke-width="4.1" stroke-linecap="butt"/>
<line x1="526.5" y1="2044.4" x2="526.5" y2="2142.2" stroke="#4472C4" stroke-width="4.1" stroke-linecap="butt"/>
<line x1="521.25" y1="2044.4" x2="531.75" y2="2044.4" stroke="#4472C4" stroke-width="4.1" stroke-linecap="butt"/>
<line x1="521.25" y1="2142.2" x2="531.75" y2="2142.2" stroke="#4472C4" stroke-width="4.1" stroke-linecap="butt"/>
<line x1="687.2" y1="1860.5" x2="687.2" y2="1903.6" stroke="#4472C4" stroke-width="4.1" stroke-linecap="butt"/>
<line x1="681.95" y1="1860.5" x2="692.45" y2="1860.5" stroke="#4472C4" stroke-width="4.1" stroke-linecap="butt"/>
<line x1="681.95" y1="1903.6" x2="692.45" y2="1903.6" stroke="#4472C4" stroke-width="4.1" stroke-linecap="butt"/>
<line x1="847.9" y1="1998.6" x2="847.9" y2="2062.9" stroke="#4472C4" stroke-width="4.1" stroke-linecap="butt"/>
<line x1="842.65" y1="1998.6" x2="853.15" y2="1998.6" stroke="#4472C4" stroke-width="4.1" stroke-linecap="butt"/>
<line x1="842.65" y1="2062.9" x2="853.15" y2="2062.9" stroke="#4472C4" stroke-width="4.1" stroke-linecap="butt"/>
<line x1="1007.8" y1="2595.4" x2="1007.8" y2="2693.9" stroke="#4472C4" stroke-width="4.1" stroke-linecap="butt"/>
<line x1="1002.55" y1="2595.4" x2="1013.05" y2="2595.4" stroke="#4472C4" stroke-width="4.1" stroke-linecap="butt"/>
<line x1="1002.55" y1="2693.9" x2="1013.05" y2="2693.9" stroke="#4472C4" stroke-width="4.1" stroke-linecap="butt"/>
<line x1="1168.9" y1="2591.8" x2="1168.9" y2="2654.3" stroke="#4472C4" stroke-width="4.1" stroke-linecap="butt"/>
<line x1="1163.65" y1="2591.8" x2="1174.15" y2="2591.8" stroke="#4472C4" stroke-width="4.1" stroke-linecap="butt"/>
<line x1="1163.65" y1="2654.3" x2="1174.15" y2="2654.3" stroke="#4472C4" stroke-width="4.1" stroke-linecap="butt"/>
<line x1="1329" y1="2468.4" x2="1329" y2="2563.7" stroke="#4472C4" stroke-width="4.1" stroke-linecap="butt"/>
<line x1="1323.75" y1="2468.4" x2="1334.25" y2="2468.4" stroke="#4472C4" stroke-width="4.1" stroke-linecap="butt"/>
<line x1="1323.75" y1="2563.7" x2="1334.25" y2="2563.7" stroke="#4472C4" stroke-width="4.1" stroke-linecap="butt"/>
<line x1="1489.7" y1="2459.5" x2="1489.7" y2="2585.3" stroke="#4472C4" stroke-width="4.1" stroke-linecap="butt"/>
<line x1="1484.45" y1="2459.5" x2="1494.95" y2="2459.5" stroke="#4472C4" stroke-width="4.1" stroke-linecap="butt"/>
<line x1="1484.45" y1="2585.3" x2="1494.95" y2="2585.3" stroke="#4472C4" stroke-width="4.1" stroke-linecap="butt"/>
<line x1="1650.9" y1="2673" x2="1650.9" y2="2721.7" stroke="#4472C4" stroke-width="4.1" stroke-linecap="butt"/>
<line x1="1645.65" y1="2673" x2="1656.15" y2="2673" stroke="#4472C4" stroke-width="4.1" stroke-linecap="butt"/>
<line x1="1645.65" y1="2721.7" x2="1656.15" y2="2721.7" stroke="#4472C4" stroke-width="4.1" stroke-linecap="butt"/>
<line x1="1811.5" y1="2582.3" x2="1811.5" y2="2661.9" stroke="#4472C4" stroke-width="4.1" stroke-linecap="butt"/>
<line x1="1806.25" y1="2582.3" x2="1816.75" y2="2582.3" stroke="#4472C4" stroke-width="4.1" stroke-linecap="butt"/>
<line x1="1806.25" y1="2661.9" x2="1816.75" y2="2661.9" stroke="#4472C4" stroke-width="4.1" stroke-linecap="butt"/>
<circle cx="367.2" cy="2166.2" r="8.7" fill="none" stroke="#4472C4" stroke-width="3.8"/>
<circle cx="526.5" cy="2093.7" r="8.7" fill="none" stroke="#4472C4" stroke-width="3.8"/>
<circle cx="687.2" cy="1882.4" r="8.7" fill="none" stroke="#4472C4" stroke-width="3.8"/>
<circle cx="847.9" cy="2030.8" r="8.7" fill="none" stroke="#4472C4" stroke-width="3.8"/>
<circle cx="1007.8" cy="2645.1" r="8.7" fill="none" stroke="#4472C4" stroke-width="3.8"/>
<circle cx="1168.9" cy="2623.5" r="8.7" fill="none" stroke="#4472C4" stroke-width="3.8"/>
<circle cx="1329" cy="2516.3" r="8.7" fill="none" stroke="#4472C4" stroke-width="3.8"/>
<circle cx="1489.7" cy="2523.2" r="8.7" fill="none" stroke="#4472C4" stroke-width="3.8"/>
<circle cx="1650.9" cy="2698.2" r="8.7" fill="none" stroke="#4472C4" stroke-width="3.8"/>
<circle cx="1811.5" cy="2622.1" r="8.7" fill="none" stroke="#4472C4" stroke-width="3.8"/>
<text x="331.6" y="2179.4" font-size="50" text-anchor="middle" fill="#000">b*</text>
<text x="341.9" y="2314.1" font-size="50" text-anchor="middle" fill="#000">d</text>
<text x="387" y="2067.9" font-size="44.5" text-anchor="middle" fill="#000">B</text>
<text x="493.3" y="2095.3" font-size="50" text-anchor="middle" fill="#000">b*</text>
<text x="506.7" y="2268.3" font-size="50" text-anchor="middle" fill="#000">c</text>
<text x="545.3" y="2035.1" font-size="44.5" text-anchor="middle" fill="#000">B</text>
<text x="694.7" y="1851.2" font-size="50" text-anchor="middle" fill="#000">a*</text>
<text x="664.2" y="2037.2" font-size="50" text-anchor="middle" fill="#000">a</text>
<text x="706" y="1941.4" font-size="44.5" text-anchor="middle" fill="#000">A</text>
<text x="812.6" y="2065.9" font-size="50" text-anchor="middle" fill="#000">b*</text>
<text x="826.7" y="2154.8" font-size="50" text-anchor="middle" fill="#000">b</text>
<text x="868" y="1929.1" font-size="44.5" text-anchor="middle" fill="#000">A</text>
<text x="967.3" y="2676.6" font-size="50" text-anchor="middle" fill="#000">c*</text>
<text x="989.9" y="2725" font-size="50" text-anchor="middle" fill="#000">e</text>
<text x="1029.5" y="2596.1" font-size="44.5" text-anchor="middle" fill="#000">D</text>
<text x="1136" y="2672.1" font-size="50" text-anchor="middle" fill="#000">c*</text>
<text x="1146.8" y="2725.9" font-size="50" text-anchor="middle" fill="#000">e</text>
<text x="1195.6" y="2651.3" font-size="44.5" text-anchor="middle" fill="#000">D</text>
<text x="1291.1" y="2529.4" font-size="50" text-anchor="middle" fill="#000">c*</text>
<text x="1309.5" y="2667.5" font-size="50" text-anchor="middle" fill="#000">e</text>
<text x="1348.1" y="2425.9" font-size="44.5" text-anchor="middle" fill="#000">C</text>
<text x="1461.4" y="2510.6" font-size="50" text-anchor="middle" fill="#000">c*</text>
<text x="1468.6" y="2705.8" font-size="50" text-anchor="middle" fill="#000">e</text>
<text x="1508.3" y="2585.4" font-size="44.5" text-anchor="middle" fill="#000">D</text>
<text x="1606.8" y="2720.6" font-size="50" text-anchor="middle" fill="#000">d*</text>
<text x="1628.9" y="2738.8" font-size="50" text-anchor="middle" fill="#000">e</text>
<text x="1669.8" y="2666.6" font-size="44.5" text-anchor="middle" fill="#000">DE</text>
<text x="1775.6" y="2626.8" font-size="50" text-anchor="middle" fill="#000">c*</text>
<text x="1787.4" y="2735.2" font-size="50" text-anchor="middle" fill="#000">e</text>
<text x="1829.4" y="2696.3" font-size="44.5" text-anchor="middle" fill="#000">E</text>
<rect x="1312.1" y="1846.3" width="52.7" height="42.3" fill="#fff" stroke="#000" stroke-width="4.2" stroke-linejoin="round"/>
<rect x="1312.1" y="1929.7" width="52.7" height="41.8" fill="#fff" stroke="none"/>
<line x1="1312.1" y1="1933" x2="1364.8" y2="1933" stroke="#4472C4" stroke-width="2.9" stroke-linecap="butt"/>
<line x1="1312.1" y1="1945.7" x2="1364.8" y2="1945.7" stroke="#4472C4" stroke-width="2.9" stroke-linecap="butt"/>
<line x1="1312.1" y1="1958.9" x2="1364.8" y2="1958.9" stroke="#4472C4" stroke-width="2.9" stroke-linecap="butt"/>
<rect x="1312.1" y="1929.7" width="52.7" height="41.8" fill="none" stroke="#000" stroke-width="4.2" stroke-linejoin="round"/>
<line x1="1309.3" y1="2035.4" x2="1361.2" y2="2035.4" stroke="#4472C4" stroke-width="4.4" stroke-linecap="round"/>
<circle cx="1335.1" cy="2035.6" r="10.3" fill="none" stroke="#4472C4" stroke-width="3.7"/>
<text x="1384.6" y="1886" font-size="47.7" text-anchor="start" fill="#000">P(3HB) (g/L)</text>
<text x="1384.9" y="1968.8" font-size="47.7" text-anchor="start" fill="#000">DCW (g/L)</text>
<text x="1381.4" y="2048.3" font-size="47.7" text-anchor="start" fill="#000">P(3HB) content (%)</text>
<text transform="translate(196 2249.1) rotate(-90)" font-size="60.9" text-anchor="middle">P(3HB) (g/L), DCW (g/L)</text>
<text transform="translate(2035.2 2258.4) rotate(-90)" font-size="59.7" text-anchor="middle">P(3HB) content (%)</text>
<text x="1057.5" y="3250.2" font-size="60.6" text-anchor="middle" fill="#000">Nitrogen source</text>
<text transform="translate(371.3 2814.3) rotate(-31.5)" font-size="47.3" text-anchor="end">Peptone 0.25%</text>
<text transform="translate(537.8 2808.3) rotate(-31.7)" font-size="47.5" text-anchor="end">Peptone 0.50%</text>
<text transform="translate(704.3 2804.2) rotate(-31.8)" font-size="47.75" text-anchor="end">Yeast extract 0.25%</text>
<text transform="translate(881.7 2807) rotate(-31.2)" font-size="53.4" text-anchor="end">Yeast extract 0.5%</text>
<text transform="translate(1035.3 2806) rotate(-32)" font-size="53.5" text-anchor="end">Urea 0.25%</text>
<text transform="translate(1196.9 2808.1) rotate(-32)" font-size="53.6" text-anchor="end">Urea 0.50%</text>
<text transform="translate(1357.6 2805.2) rotate(-32.4)" font-size="53.5" text-anchor="end">Ammonium sulfate 0.25%</text>
<text transform="translate(1527.8 2805.2) rotate(-32.3)" font-size="53.5" text-anchor="end">Ammonium sulfate 0.50%</text>
<text transform="translate(1698.8 2806) rotate(-32)" font-size="53.7" text-anchor="end">Ammonium nitrate 0.25%</text>
<text transform="translate(1859.8 2823.9) rotate(-32)" font-size="53.6" text-anchor="end">Ammonium nitrate 0.5%</text>
</svg></body></html>
